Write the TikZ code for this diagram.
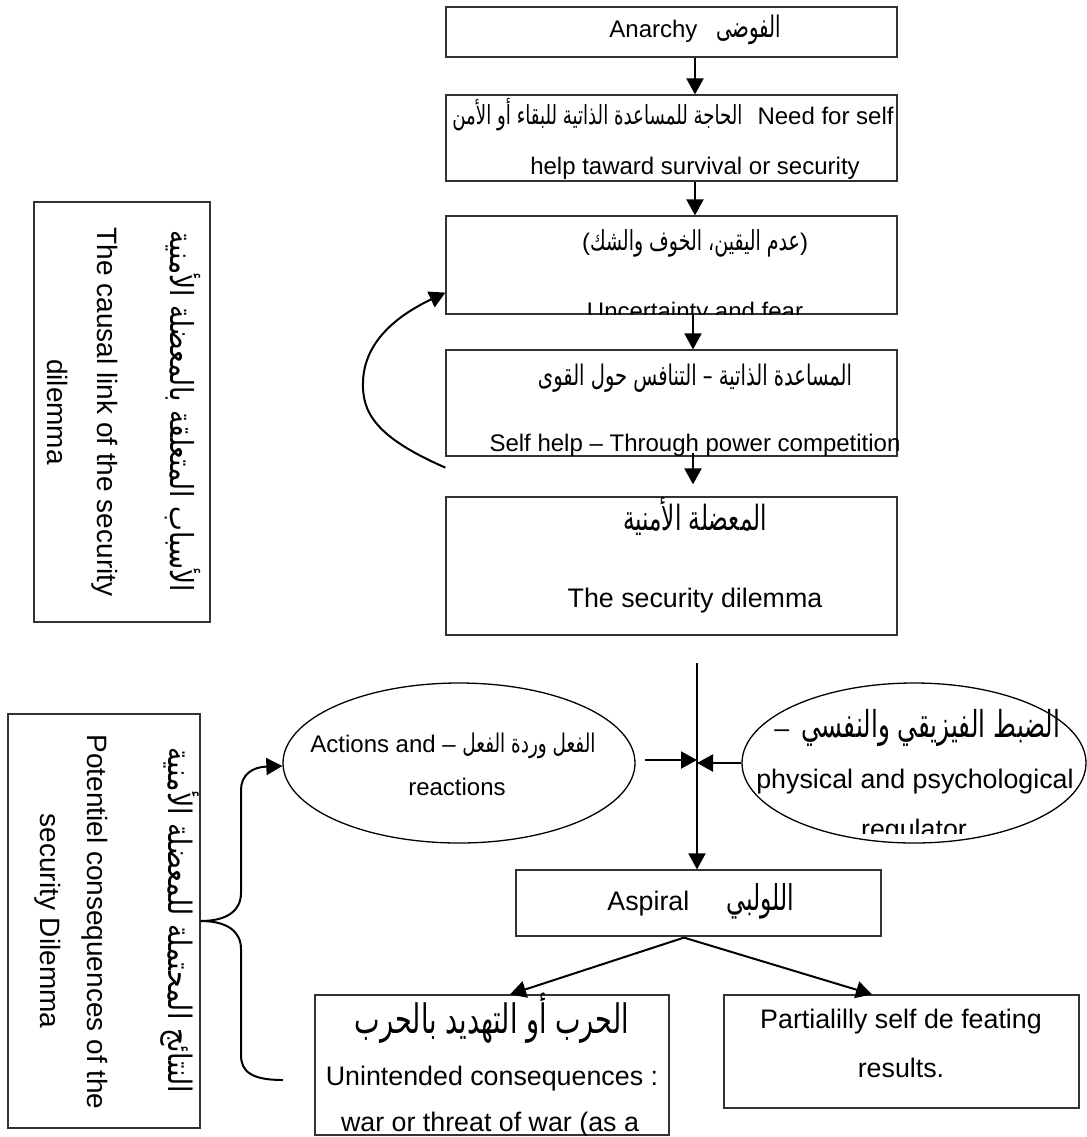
\documentclass[tikz,border=0pt]{standalone}
\usepackage{fontspec}
\setmainfont{Liberation Sans}
\newfontfamily\arabicfont[Script=Arabic]{DejaVu Sans}
\TeXXeTstate=1
\usetikzlibrary{shapes.geometric,arrows.meta,calc}
% #1 width, #2 vertical stretch, #3 text (with \beginR...\endR)
\newcommand{\arw}[3]{\scalebox{1}[#2]{\resizebox{#1}{!}{\arabicfont #3}}}
\begin{document}
\begin{tikzpicture}[x=0.5pt,y=-0.5pt,
  box/.style={draw=black!80,line width=0.6pt,rectangle,inner sep=0pt},
  ell/.style={draw=black,line width=0.65pt,ellipse,inner sep=0pt},
  t12/.style={inner sep=0pt,font=\fontsize{12}{14}\selectfont},
  t13/.style={inner sep=0pt,font=\fontsize{13.4}{15}\selectfont},
  t14/.style={inner sep=0pt,font=\fontsize{14}{16}\selectfont},
  arr/.style={line width=1pt,-{Triangle[length=8pt,width=8.5pt]}},
  ln/.style={line width=1pt}]
\useasboundingbox (0,0) rectangle (1087,1137);
\fill[white] (0,0) rectangle (1087,1137);

% ---------- boxes ----------
\node[box,minimum width=225.5pt,minimum height=25pt] (anarchy) at (671.5,32) {};
\node[box,minimum width=225.5pt,minimum height=43pt] (need) at (671.5,138) {};
\node[box,minimum width=225.5pt,minimum height=49pt] (unc) at (671.5,265) {};
\node[box,minimum width=225.5pt,minimum height=53pt] (selfh) at (671.5,403) {};
\node[box,minimum width=225.5pt,minimum height=69pt] (secd) at (671.5,566) {};
\node[box,minimum width=88pt,minimum height=210pt] (cause) at (122,412) {};
\node[box,minimum width=96pt,minimum height=207pt] (conseq) at (104,921) {};
\node[ell,minimum width=176pt,minimum height=80pt] (ell1) at (459,763) {};
\node[ell,minimum width=172pt,minimum height=80pt] (ell2) at (914,763) {};
\node[box,minimum width=182.5pt,minimum height=33pt] (aspiral) at (698.5,903) {};
\node[box,minimum width=177pt,minimum height=70pt] (war) at (492,1065) {};
\node[box,minimum width=177.5pt,minimum height=56.5pt] (partial) at (901.5,1051.5) {};

% ---------- texts ----------
\node[t12,anchor=base west] (tAn) at (609,37) {Anarchy\hspace{9.5pt}\arw{32.5pt}{1.5}{\beginR الفوضى\endR}};
\node[t12,anchor=base west] (tNar) at (452,124) {\arw{145pt}{1.45}{\beginR الحاجة للمساعدة الذاتية للبقاء أو الأمن\endR}};
\node[t12,anchor=base east] (tNa) at (894,124) {Need for self};
\node[t12,anchor=base] (tNb) at (695,174) {help taward survival or security};
\node[t12,anchor=base] (tUa) at (695,250) {(\arw{105pt}{1.45}{\beginR عدم اليقين، الخوف والشك\endR})};
\begin{scope}
\clip (unc.north west) rectangle (unc.south east);
\node[t12,anchor=base] (tUb) at (695,319) {Uncertainty and fear};
\end{scope}
\node[t12,anchor=base] (tSa) at (695,385) {\arw{157pt}{1.45}{\beginR المساعدة الذاتية – التنافس حول القوى\endR}};
\node[t12,anchor=base] (tSb) at (695,451) {Self help – Through power competition};
\node[t12,anchor=base] (tDa) at (695,530) {\arw{72pt}{1.5}{\beginR المعضلة الأمنية\endR}};
\node[t13,anchor=base] (tDb) at (695,607) {The security dilemma};

% rotated side boxes
\node[t14,rotate=-90] (tCa) at (183,411) {\arw{181pt}{1.2}{\beginR الأسباب المتعلقة بالمعضلة الأمنية\endR}};
\node[t14,rotate=-90] (tCb) at (105,412) {The causal link of the security};
\node[t14,rotate=-90] (tCc) at (58,412) {dilemma};
\node[t14,rotate=-90] (tQa) at (180,920) {\arw{173pt}{1.2}{\beginR النتائج المحتملة للمعضلة الأمنية\endR}};
\node[t14,rotate=-90] (tQb) at (95,922) {Potentiel consequences of the};
\node[t14,rotate=-90] (tQc) at (48,921) {security Dilemma};

% ellipses
\node[t12,anchor=base west] (tE1a) at (310,752) {Actions and – \arw{66.5pt}{1.4}{\beginR الفعل وردة الفعل\endR}};
\node[t12,anchor=base] (tE1b) at (457,795) {reactions};
\node[t13,anchor=base west] (tE2a) at (774,737) {–\hspace{6pt}\arw{129.5pt}{1.5}{\beginR الضبط الفيزيقي والنفسي\endR}};
\node[t13,anchor=base] (tE2b) at (915,788) {physical and psychological};
\begin{scope}
\clip (742,683) rectangle (1087,833);
\node[t13,anchor=base] (tE2c) at (914,838) {regulator};
\end{scope}

% aspiral & results
\node[t13,anchor=base west] (tAs) at (607,910) {Aspiral\hspace{18.5pt}\arw{34pt}{1.5}{\beginR اللولبي\endR}};
\node[t13,anchor=base] (tWa) at (492,1033) {\arw{137pt}{1.5}{\beginR الحرب أو التهديد بالحرب\endR}};
\node[t13,anchor=base] (tWb) at (492,1085) {Unintended consequences :};
\begin{scope}
\clip (war.north west) rectangle (war.south east);
\node[t13,anchor=base] (tWc) at (490,1131) {war or threat of war (as a};
\end{scope}
\node[t13,anchor=base] (tPa) at (901,1028) {Partialilly self de feating};
\node[t13,anchor=base] (tPb) at (901,1077) {results.};

% ---------- connectors ----------
\coordinate (ax) at (695,0);
\draw[arr] (anarchy.south -| ax) -- (need.north -| ax);
\draw[arr] (need.south -| ax) -- (unc.north -| ax);
\draw[arr] ($(unc.south -| ax)+(-2,0)$) -- ($(selfh.north -| ax)+(-2,0)$);
\draw[arr] ($(selfh.south -| ax)+(-2,-4)$) -- ($(secd.north -| ax)+(-2,-12)$);

% feedback loop
\draw[arr] ($(selfh.south west)+(0,11)$) .. controls (375,437) and (362,412) .. (363,382)
  .. controls (364,345) and (392,318) .. ($(unc.south west)+(0,-22)$);

% central line
\coordinate (vtop) at (697,663);
\draw[arr] (vtop) -- (vtop |- aspiral.north);
\coordinate (lst) at (645,760);
\draw[arr] (lst) -- (vtop |- lst);
\draw[arr] (ell2.west) -- (vtop |- ell2.west);

% aspiral branches
\draw[arr] ($(aspiral.south)+(-14.5,1)$) -- ($(war.north)+(18,0)$);
\draw[arr] ($(aspiral.south)+(-14.5,1)$) -- ($(partial.north)+(-29.5,0)$);

% brace
\coordinate (bend) at (283,1080);
\draw[arr] (conseq.east) .. controls (228,921) and (241,910) .. (241,893) -- (241,790)
  .. controls (241,775) and (252,767) .. ($(ell1.west)+(0,3)$);
\draw[ln] (conseq.east) .. controls (228,921) and (241,932) .. (241,949) -- (241,1055)
  .. controls (241,1072) and (252,1080) .. (bend);
\end{tikzpicture}
\end{document}
